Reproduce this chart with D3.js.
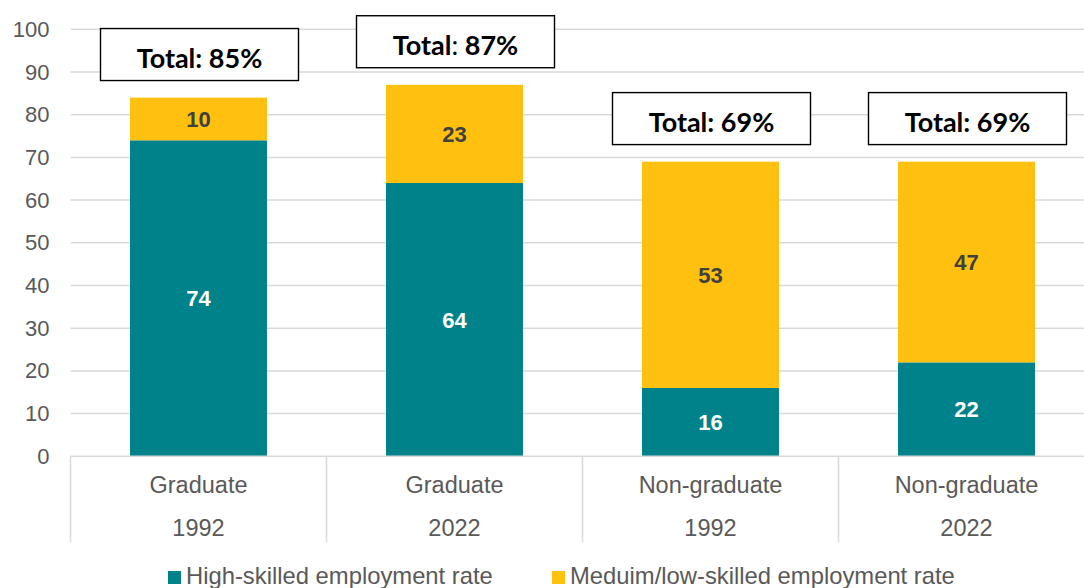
<!DOCTYPE html>
<html>
<head>
<meta charset="utf-8">
<script src="https://cdn.jsdelivr.net/npm/d3@7"></script>
<style>
  html, body { margin: 0; padding: 0; background: #fff; }
  svg { display: block; }
</style>
</head>
<body>
<svg id="chart" width="1084" height="588"></svg>
<script>
// Employment rates by education group and year
const groups = ["Graduate", "Graduate", "Non-graduate", "Non-graduate"];
const years = ["1992", "2022", "1992", "2022"];
const highSkilled = [74, 64, 16, 22];
const midLowSkilled = [10, 23, 53, 47];
const totals = [85, 87, 69, 69];
const seriesNames = ["High-skilled employment rate", "Meduim/low-skilled employment rate"];
const yTicks = [0, 10, 20, 30, 40, 50, 60, 70, 80, 90, 100];

const W = 1084, H = 588;
const margin = { left: 70.5, top: 29.3, bottom: 132 };
const plotRight = margin.left + 256 * 4;
const baseY = 456.3;

const colors = ["#00828B", "#FFC010"];
const axisFont = "'Liberation Sans', Arial, Helvetica, sans-serif";
const boxFont = "Lato, 'Open Sans', sans-serif";

const svg = d3.select("#chart");

const keys = groups.map((g, i) => i);
const x = d3.scaleBand().domain(keys).range([margin.left, plotRight]).paddingInner(0.465).paddingOuter(0.2325);
const y = d3.scaleLinear().domain([0, 100]).range([baseY, margin.top]);

// gridlines
svg.append("g")
  .selectAll("line")
  .data(yTicks.filter(d => d > 0))
  .join("line")
  .attr("x1", margin.left).attr("x2", plotRight)
  .attr("y1", d => y(d)).attr("y2", d => y(d))
  .attr("stroke", "#D9D9D9").attr("stroke-width", 1.5);

// y axis labels
const yAxis = d3.axisLeft(y).tickValues(yTicks).tickSize(0).tickPadding(21);
svg.append("g")
  .attr("transform", `translate(${margin.left},0)`)
  .call(yAxis)
  .call(g => g.select(".domain").remove())
  .call(g => g.selectAll("text")
    .attr("font-family", axisFont)
    .attr("font-size", 22)
    .attr("fill", "#595959"));

// stacked bars
const rows = keys.map(i => ({ i, high: highSkilled[i], mid: midLowSkilled[i] }));
const stack = d3.stack().keys(["high", "mid"])(rows);

const layer = svg.append("g")
  .selectAll("g")
  .data(stack)
  .join("g")
  .attr("fill", (d, k) => colors[k]);

layer.selectAll("rect")
  .data(d => d)
  .join("rect")
  .attr("x", d => x(d.data.i))
  .attr("width", x.bandwidth())
  .attr("y", d => y(d[1]))
  .attr("height", d => y(d[0]) - y(d[1]));

// segment value labels
svg.append("g")
  .selectAll("g")
  .data(stack)
  .join("g")
  .selectAll("text")
  .data((d, k) => d.map(s => ({ s, k })))
  .join("text")
  .attr("x", d => x(d.s.data.i) + x.bandwidth() / 2)
  .attr("y", d => (y(d.s[0]) + y(d.s[1])) / 2)
  .attr("dy", "0.36em")
  .attr("text-anchor", "middle")
  .attr("font-family", axisFont)
  .attr("font-weight", "bold")
  .attr("font-size", 22)
  .attr("fill", d => d.k === 0 ? "#FFFFFF" : "#404040")
  .text(d => d.k === 0 ? d.s.data.high : d.s.data.mid);

// x axis baseline and category dividers
svg.append("line")
  .attr("x1", margin.left).attr("x2", plotRight)
  .attr("y1", baseY).attr("y2", baseY)
  .attr("stroke", "#D9D9D9").attr("stroke-width", 1.5);

const bandStart = i => margin.left + i * x.step();
svg.append("g")
  .selectAll("line")
  .data(d3.range(keys.length + 1))
  .join("line")
  .attr("x1", i => bandStart(i)).attr("x2", i => bandStart(i))
  .attr("y1", baseY).attr("y2", 542)
  .attr("stroke", "#D9D9D9").attr("stroke-width", 1.5);

// category labels (two levels)
const catG = svg.append("g")
  .attr("font-family", axisFont)
  .attr("font-size", 23.5)
  .attr("fill", "#595959")
  .attr("text-anchor", "middle");
catG.selectAll("text.grp")
  .data(keys)
  .join("text")
  .attr("class", "grp")
  .attr("x", i => x(i) + x.bandwidth() / 2)
  .attr("y", 492.7)
  .text(i => groups[i]);
catG.selectAll("text.yr")
  .data(keys)
  .join("text")
  .attr("class", "yr")
  .attr("x", i => x(i) + x.bandwidth() / 2)
  .attr("y", 536)
  .text(i => years[i]);

// total callout boxes
const colonBold = [true, false, true, true];
const boxW = 198, boxH = 52;
const boxes = svg.append("g")
  .selectAll("g")
  .data(keys)
  .join("g")
  .attr("transform", i => {
    const cx = x(i) + x.bandwidth() / 2 + 1;
    const bottom = y(highSkilled[i] + midLowSkilled[i] + 4);
    return `translate(${cx - boxW / 2},${bottom - boxH})`;
  });
boxes.append("rect")
  .attr("width", boxW).attr("height", boxH)
  .attr("fill", "#FFFFFF")
  .attr("stroke", "#000000").attr("stroke-width", 1.4);
const bt = boxes.append("text")
  .attr("x", boxW / 2)
  .attr("y", 39)
  .attr("text-anchor", "middle")
  .attr("font-family", boxFont)
  .attr("font-size", 27)
  .attr("font-weight", "bold")
  .attr("fill", "#000000");
bt.append("tspan").text("Total");
bt.append("tspan").attr("font-weight", i => colonBold[i] ? "bold" : "normal").text(":");
bt.append("tspan").text(i => ` ${totals[i]}%`);

// legend
const legendX = [168, 552];
const legend = svg.append("g")
  .selectAll("g")
  .data(seriesNames)
  .join("g")
  .attr("transform", (d, k) => `translate(${legendX[k]},571)`);
legend.append("rect")
  .attr("width", 13).attr("height", 13)
  .attr("fill", (d, k) => colors[k]);
legend.append("text")
  .attr("x", 18)
  .attr("y", 13)
  .attr("font-family", axisFont)
  .attr("font-size", 23.8)
  .attr("fill", "#595959")
  .text(d => d);
</script>
</body>
</html>
